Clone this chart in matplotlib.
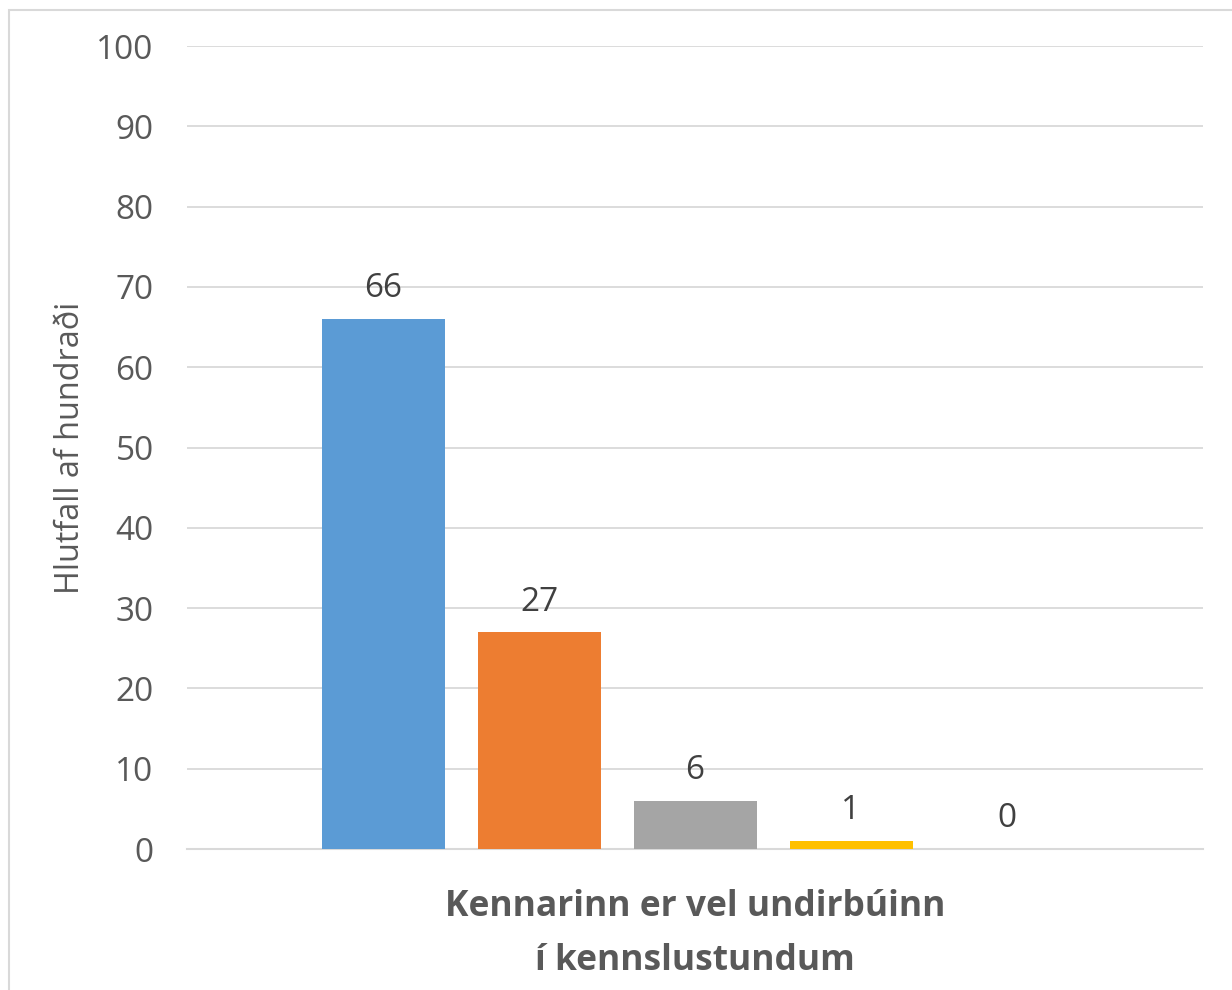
"""
Bar chart: Kennarinn er vel undirbúinn í kennslustundum
"""
import matplotlib
matplotlib.use('Agg')
import matplotlib.pyplot as plt
from matplotlib.patches import Rectangle

plt.rcParams['font.family'] = ['Open Sans', 'DejaVu Sans']

# Data
category = 'Kennarinn er vel undirbúinn\ní kennslustundum'
values = [66, 27, 6, 1, 0]
colors = ['#5B9BD5', '#ED7D31', '#A5A5A5', '#FFC000', '#4472C4']
y_label = 'Hlutfall af hundraði'
y_ticks = list(range(0, 101, 10))

fig = plt.figure(figsize=(12.32, 9.9), dpi=100)
ax = fig.add_axes([187 / 1232, 1 - 849 / 990, (1203 - 187) / 1232, (849 - 46) / 990])

# Outer chart-area border (only top/left visible in crop)
fig.patches.append(Rectangle((9 / 1232, -0.1), 1.2, 1 - 10 / 990 + 0.1,
                             transform=fig.transFigure, fill=False,
                             edgecolor='#d9d9d9', linewidth=1.5))

# Bars
step = 156 / 1016
width = 123 / 1016
n = len(values)
for i, (v, c) in enumerate(zip(values, colors)):
    x = (i - (n - 1) / 2) * step
    ax.bar(x, v, width, color=c, zorder=3)
    ax.text(x, v + 1.7, f'{v}', ha='center', va='bottom',
            fontsize=24, color='#404040')

ax.set_xlim(-0.5, 0.5)
ax.set_ylim(0, 100)
ax.set_yticks(y_ticks)
ax.tick_params(axis='y', length=0, pad=24, labelsize=24, labelcolor='#595959')
ax.set_xticks([0])
ax.set_xticklabels([category], fontsize=25.5, fontweight='bold', color='#595959',
                   linespacing=1.64)
ax.tick_params(axis='x', length=0, pad=29)
ax.set_ylabel(y_label, fontsize=23.3, color='#595959')
ax.yaxis.set_label_coords(-0.0985, 0.5)

ax.grid(True, axis='y', color='#d9d9d9', linewidth=1.3, zorder=0)
for s in ['top', 'right', 'left']:
    ax.spines[s].set_visible(False)
ax.spines['bottom'].set_color('#d9d9d9')
ax.spines['bottom'].set_linewidth(1.5)

fig.savefig('out.png', dpi=100)
